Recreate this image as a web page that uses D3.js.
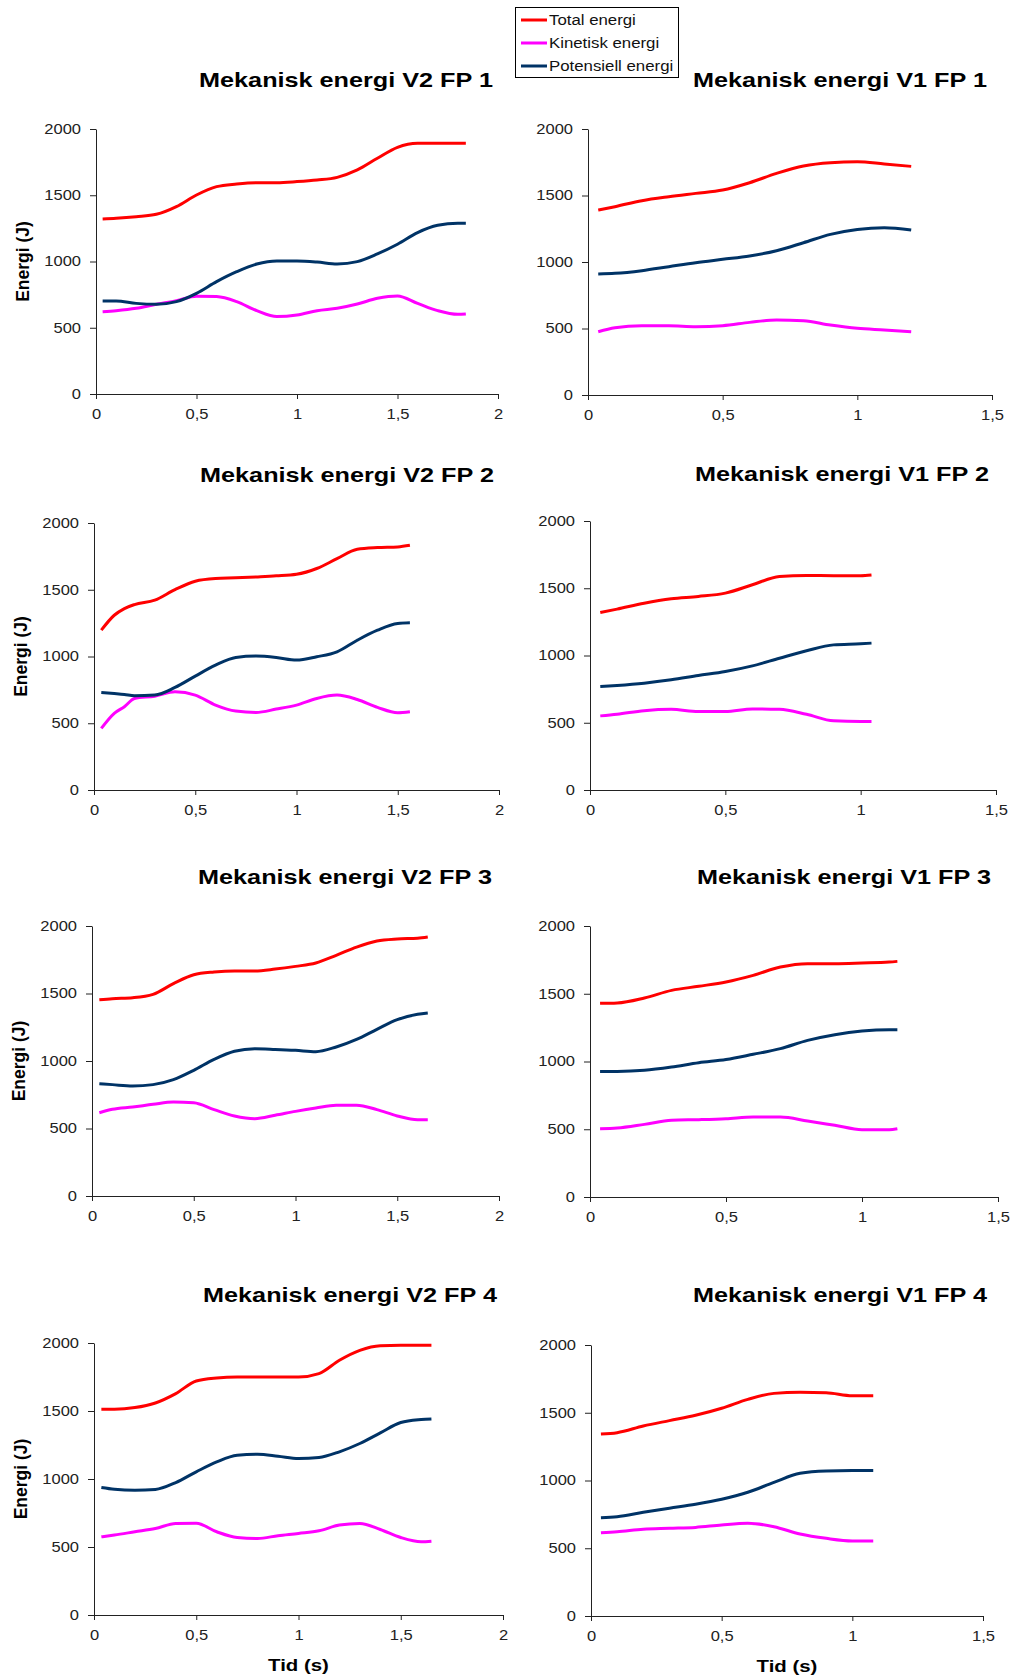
<!DOCTYPE html>
<html>
<head>
<meta charset="utf-8">
<script src="https://cdn.jsdelivr.net/npm/d3@7"></script>
<style>
  body { margin: 0; background: #fff; }
  text { font-family: "Liberation Sans", Arial, sans-serif; }
</style>
</head>
<body>
<div id="chart"></div>
<script>
// Values (time in s, energy in J)
var seriesNames = ["Total energi", "Kinetisk energi", "Potensiell energi"];
var seriesColors = ["#ff0000", "#ff00ff", "#003366"];
var yTicks = [0, 500, 1000, 1500, 2000];
var xTicksV2 = [0, 0.5, 1, 1.5, 2];
var xTicksV1 = [0, 0.5, 1, 1.5];

// V2 FP 1
var tV2FP1 = [0.033, 0.1, 0.2, 0.3, 0.4, 0.5, 0.6, 0.7, 0.8, 0.9, 1.0, 1.1, 1.2, 1.3, 1.4, 1.5, 1.6, 1.7, 1.8, 1.84];
var totV2FP1 = [1321, 1326, 1338, 1356, 1414, 1502, 1565, 1585, 1595, 1595, 1603, 1615, 1635, 1691, 1779, 1862, 1892, 1892, 1892, 1892];
var kinV2FP1 = [621, 629, 647, 677, 704, 738, 735, 697, 629, 584, 596, 629, 647, 679, 722, 740, 684, 629, 601, 604];
var potV2FP1 = [702, 702, 684, 677, 697, 760, 848, 923, 981, 1004, 1004, 996, 981, 999, 1057, 1130, 1218, 1273, 1288, 1288];

// V1 FP 1
var tV1FP1 = [0.038, 0.1, 0.2, 0.3, 0.4, 0.5, 0.6, 0.7, 0.8, 0.9, 1.0, 1.1, 1.2];
var totV1FP1 = [1391, 1416, 1461, 1491, 1516, 1541, 1596, 1666, 1722, 1747, 1754, 1737, 1719];
var kinV1FP1 = [476, 506, 521, 521, 514, 521, 546, 564, 559, 526, 501, 489, 476];
var potV1FP1 = [910, 915, 935, 965, 995, 1020, 1045, 1085, 1145, 1208, 1245, 1258, 1240];

// V2 FP 2
var tV2FP2 = [0.036, 0.1, 0.15, 0.2, 0.3, 0.4, 0.5, 0.6, 0.7, 0.8, 0.9, 1.0, 1.1, 1.2, 1.3, 1.4, 1.5, 1.56];
var totV2FP2 = [1197, 1309, 1359, 1389, 1422, 1501, 1564, 1584, 1589, 1596, 1604, 1616, 1659, 1733, 1803, 1816, 1821, 1833];
var kinV2FP2 = [461, 574, 624, 686, 703, 736, 711, 636, 591, 581, 606, 636, 686, 711, 678, 619, 579, 586];
var potV2FP2 = [731, 723, 716, 706, 711, 768, 853, 935, 993, 1003, 993, 973, 998, 1035, 1122, 1197, 1247, 1252];

// V1 FP 2
var tV1FP2 = [0.038, 0.1, 0.2, 0.3, 0.4, 0.5, 0.6, 0.7, 0.8, 0.9, 1.0, 1.04];
var totV1FP2 = [1320, 1345, 1389, 1422, 1439, 1464, 1526, 1588, 1595, 1593, 1593, 1598];
var kinV1FP2 = [551, 563, 590, 600, 583, 583, 603, 600, 563, 514, 509, 509];
var potV1FP2 = [769, 777, 794, 819, 851, 881, 923, 980, 1035, 1079, 1087, 1092];

// V2 FP 3
var tV2FP3 = [0.036, 0.1, 0.2, 0.3, 0.4, 0.5, 0.6, 0.7, 0.8, 0.9, 1.0, 1.1, 1.2, 1.3, 1.4, 1.5, 1.6, 1.65];
var totV2FP3 = [1454, 1462, 1469, 1494, 1573, 1639, 1659, 1667, 1667, 1681, 1701, 1726, 1783, 1844, 1889, 1904, 1909, 1918];
var kinV2FP3 = [617, 642, 659, 679, 696, 690, 640, 593, 573, 598, 627, 652, 672, 672, 640, 593, 565, 565];
var potV2FP3 = [832, 825, 815, 825, 862, 931, 1012, 1072, 1091, 1086, 1079, 1069, 1104, 1160, 1235, 1306, 1346, 1356];

// V1 FP 3
var tV1FP3 = [0.037, 0.1, 0.2, 0.3, 0.4, 0.5, 0.6, 0.7, 0.8, 0.9, 1.0, 1.1, 1.13];
var totV1FP3 = [1429, 1432, 1469, 1525, 1555, 1587, 1636, 1697, 1722, 1722, 1727, 1734, 1739];
var kinV1FP3 = [504, 509, 536, 566, 571, 578, 590, 590, 561, 529, 497, 497, 504];
var potV1FP3 = [927, 927, 935, 959, 991, 1014, 1053, 1095, 1156, 1198, 1225, 1235, 1235];

// V2 FP 4
var tV2FP4 = [0.036, 0.1, 0.2, 0.3, 0.4, 0.5, 0.6, 0.7, 0.8, 0.9, 1.0, 1.1, 1.2, 1.3, 1.4, 1.5, 1.6, 1.65];
var totV2FP4 = [1513, 1513, 1525, 1559, 1628, 1721, 1743, 1750, 1750, 1750, 1750, 1775, 1873, 1946, 1980, 1983, 1983, 1983];
var kinV2FP4 = [575, 588, 612, 636, 673, 675, 612, 570, 563, 583, 600, 619, 661, 673, 629, 570, 539, 543];
var potV2FP4 = [938, 925, 918, 923, 974, 1053, 1126, 1175, 1182, 1168, 1151, 1158, 1200, 1261, 1339, 1415, 1437, 1442];

// V1 FP 4
var tV1FP4 = [0.038, 0.1, 0.2, 0.3, 0.4, 0.5, 0.6, 0.7, 0.8, 0.9, 1.0, 1.08];
var totV1FP4 = [1343, 1353, 1402, 1442, 1481, 1533, 1599, 1643, 1651, 1648, 1626, 1626];
var kinV1FP4 = [615, 622, 640, 647, 654, 672, 684, 659, 605, 573, 554, 554];
var potV1FP4 = [726, 733, 765, 795, 824, 861, 913, 986, 1053, 1070, 1073, 1073];

// panel layout (pixel boxes of each plot area)
var panels = [
  { title: "Mekanisk energi V2 FP 1", t: tV2FP1, s: [totV2FP1, kinV2FP1, potV2FP1], ticks: xTicksV2,
    left: 96, top: 129, right: 498, bottom: 394, tx: 346, ty: 87, ylab: true, xlab: false },
  { title: "Mekanisk energi V1 FP 1", t: tV1FP1, s: [totV1FP1, kinV1FP1, potV1FP1], ticks: xTicksV1,
    left: 588, top: 129, right: 992, bottom: 395, tx: 840, ty: 87, ylab: false, xlab: false },
  { title: "Mekanisk energi V2 FP 2", t: tV2FP2, s: [totV2FP2, kinV2FP2, potV2FP2], ticks: xTicksV2,
    left: 94, top: 523, right: 499, bottom: 790, tx: 347, ty: 482, ylab: true, xlab: false },
  { title: "Mekanisk energi V1 FP 2", t: tV1FP2, s: [totV1FP2, kinV1FP2, potV1FP2], ticks: xTicksV1,
    left: 590, top: 521, right: 996, bottom: 790, tx: 842, ty: 481, ylab: false, xlab: false },
  { title: "Mekanisk energi V2 FP 3", t: tV2FP3, s: [totV2FP3, kinV2FP3, potV2FP3], ticks: xTicksV2,
    left: 92, top: 926, right: 499, bottom: 1196, tx: 345, ty: 884, ylab: true, xlab: false },
  { title: "Mekanisk energi V1 FP 3", t: tV1FP3, s: [totV1FP3, kinV1FP3, potV1FP3], ticks: xTicksV1,
    left: 590, top: 926, right: 998, bottom: 1197, tx: 844, ty: 884, ylab: false, xlab: false },
  { title: "Mekanisk energi V2 FP 4", t: tV2FP4, s: [totV2FP4, kinV2FP4, potV2FP4], ticks: xTicksV2,
    left: 94, top: 1343, right: 503, bottom: 1615, tx: 350, ty: 1302, ylab: true, xlab: true },
  { title: "Mekanisk energi V1 FP 4", t: tV1FP4, s: [totV1FP4, kinV1FP4, potV1FP4], ticks: xTicksV1,
    left: 591, top: 1345, right: 983, bottom: 1616, tx: 840, ty: 1302, ylab: false, xlab: true }
];

var svg = d3.select("#chart")
  .append("svg")
  .attr("width", 1011)
  .attr("height", 1679);

// the original picture is stretched sideways, so widen horizontal text
function stretch(sel, k) {
  sel.each(function() {
    var w = this.getComputedTextLength();
    d3.select(this)
      .attr("textLength", w * k)
      .attr("lengthAdjust", "spacingAndGlyphs");
  });
}

var comma = function(d) { return String(d).replace(".", ","); };

panels.forEach(function(p) {
  var x = d3.scaleLinear()
    .domain([0, p.ticks[p.ticks.length - 1]])
    .range([p.left, p.right]);
  var y = d3.scaleLinear()
    .domain([0, 2000])
    .range([p.bottom, p.top]);

  // title
  var title = svg.append("text")
    .attr("x", p.tx)
    .attr("y", p.ty)
    .attr("text-anchor", "middle")
    .style("font-size", "20.5px")
    .style("font-weight", "bold")
    .text(p.title);
  stretch(title, 1.23);

  // y axis
  var yAxis = svg.append("g")
    .attr("transform", "translate(" + p.left + ",0)")
    .call(d3.axisLeft(y).tickValues(yTicks).tickFormat(String).tickSize(6).tickPadding(9).tickSizeOuter(0));
  // x axis
  var xAxis = svg.append("g")
    .attr("transform", "translate(0," + p.bottom + ")")
    .call(d3.axisBottom(x).tickValues(p.ticks).tickFormat(comma).tickSize(5).tickPadding(10).tickSizeOuter(0));

  [yAxis, xAxis].forEach(function(a) {
    a.select(".domain").attr("stroke", "#222");
    a.selectAll(".tick line").attr("stroke", "#222");
    a.selectAll(".tick text")
      .attr("fill", "#222")
      .style("font-size", "14px")
      .style("font-family", "'Liberation Sans', Arial, sans-serif");
    stretch(a.selectAll(".tick text"), 1.18);
  });

  if (p.ylab) {
    svg.append("text")
      .attr("transform", "translate(" + (p.left - 67) + "," + ((p.top + p.bottom) / 2) + ") rotate(-90)")
      .attr("text-anchor", "middle")
      .style("font-size", "17.5px")
      .style("font-weight", "bold")
      .text("Energi (J)");
  }
  if (p.xlab) {
    var xl = svg.append("text")
      .attr("x", (p.left + p.right) / 2)
      .attr("y", p.bottom + 56)
      .attr("text-anchor", "middle")
      .style("font-size", "17px")
      .style("font-weight", "bold")
      .text("Tid (s)");
    stretch(xl, 1.2);
  }

  var line = d3.line()
    .x(function(d) { return x(d[0]); })
    .y(function(d) { return y(d[1]); })
    .curve(d3.curveMonotoneX);

  p.s.forEach(function(vals, i) {
    svg.append("path")
      .datum(p.t.map(function(t, j) { return [t, vals[j]]; }))
      .attr("fill", "none")
      .attr("stroke", seriesColors[i])
      .attr("stroke-width", 3)
      .attr("d", line);
  });
});

// legend
var legend = svg.append("g");
legend.append("rect")
  .attr("x", 515.5)
  .attr("y", 7.5)
  .attr("width", 163)
  .attr("height", 70)
  .attr("fill", "#fff")
  .attr("stroke", "#000");

seriesNames.forEach(function(name, i) {
  var cy = 20 + i * 23;
  legend.append("line")
    .attr("x1", 521).attr("x2", 547)
    .attr("y1", cy).attr("y2", cy)
    .attr("stroke", seriesColors[i])
    .attr("stroke-width", 3);
  var t = legend.append("text")
    .attr("x", 549)
    .attr("y", cy + 5)
    .style("font-size", "14px")
    .attr("fill", "#111")
    .text(name);
  stretch(t, 1.2);
});
</script>
</body>
</html>
